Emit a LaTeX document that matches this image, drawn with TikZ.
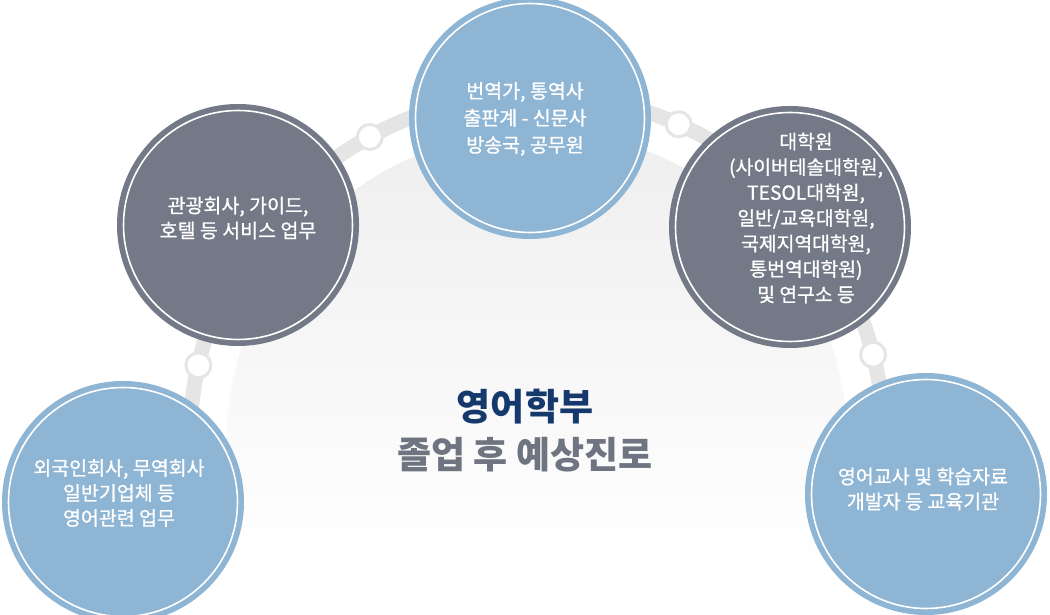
\documentclass[tikz,border=0pt]{standalone}
\usepackage{fontspec}
\setmainfont{Noto Sans CJK KR}
\newfontfamily\medfont{Noto Sans CJK KR}[FakeBold=0.9]
\definecolor{cblue}{RGB}{143,181,212}
\definecolor{cgray}{RGB}{115,121,134}
\definecolor{bandc}{RGB}{229,229,229}
\definecolor{navy}{RGB}{22,57,109}
\definecolor{titlegray}{RGB}{110,116,128}
\pgfdeclareverticalshading{bgdisc}{100bp}{color(0bp)=(white); color(40bp)=(white); color(72bp)=(black!6); color(100bp)=(black!7)}
\begin{document}
\begin{tikzpicture}[x=1pt,y=1pt,
  bubble/.style={circle, minimum size=242pt, inner sep=0pt, fill=#1},
  ring/.style={white, line width=1.6pt},
  dot/.style={circle, minimum size=25pt, inner sep=0pt, fill=white, draw=bandc, line width=3pt},
  txt/.style={text=white, align=center, font=\medfont\fontsize{19.5}{25}\selectfont},
  txtt/.style={text=white, align=center, font=\medfont\fontsize{19.5}{27}\selectfont},
  txtr/.style={text=white, align=center, font=\medfont\fontsize{19.3}{25.5}\selectfont},
  title/.style={font=\fontsize{37}{44}\selectfont\bfseries}]
\useasboundingbox (0,0) rectangle (1050,615);
\clip (0,0) rectangle (1050,615);
\coordinate (arcc) at (537,174);
\shade[shading=bgdisc] (arcc) circle (310);
\draw[bandc, line width=15pt] ([shift={(188:347)}]arcc) arc[start angle=188, end angle=-8, radius=347];
\node[dot] (d1) at ([shift={(167.4:347)}]arcc) {};
\node[dot] (d2) at ([shift={(118.8:347)}]arcc) {};
\node[dot] (d3) at ([shift={(65.9:347)}]arcc) {};
\node[dot] (d4) at ([shift={(14.4:347)}]arcc) {};
% circles
\node[bubble=cblue] (bl) at (123,113) {};
\draw[ring] (bl.center) circle (114.5);
\node[bubble=cgray] (ul) at (238,390) {};
\draw[ring] (ul.center) circle (114.5);
\node[bubble=cblue] (tp) at (530,497) {};
\draw[ring] (tp.center) circle (114.5);
\node[bubble=cgray] (rt) at (790,388) {};
\draw[ring] (rt.center) circle (114.5);
\node[bubble=cblue] (br) at (926,121) {};
\draw[ring] (br.center) circle (114.5);
% texts
\node[txt] (tbl) at (119,122) {외국인회사, 무역회사\\일반기업체 등\\영어관련 업무};
\node[txt] (tul) at (238,397) {관광회사, 가이드,\\호텔 등 서비스 업무};
\node[txtt] (ttp) at (525,496) {번역가, 통역사\\출판계 - 신문사\\방송국, 공무원};
\node[txtr] (trt) at (806,397) {대학원\\(사이버테솔대학원,\\TESOL대학원,\\일반/교육대학원,\\국제지역대학원,\\통번역대학원)\\및 연구소 등};
\node[txt] (tbr) at (923,126) {영어교사 및 학습자료\\개발자 등 교육기관};
\node[title, text=navy] (title1) at (525,208) {영어학부};
\node[title, text=titlegray] (title2) at (525,160) {졸업 후 예상진로};
\end{tikzpicture}
\end{document}
